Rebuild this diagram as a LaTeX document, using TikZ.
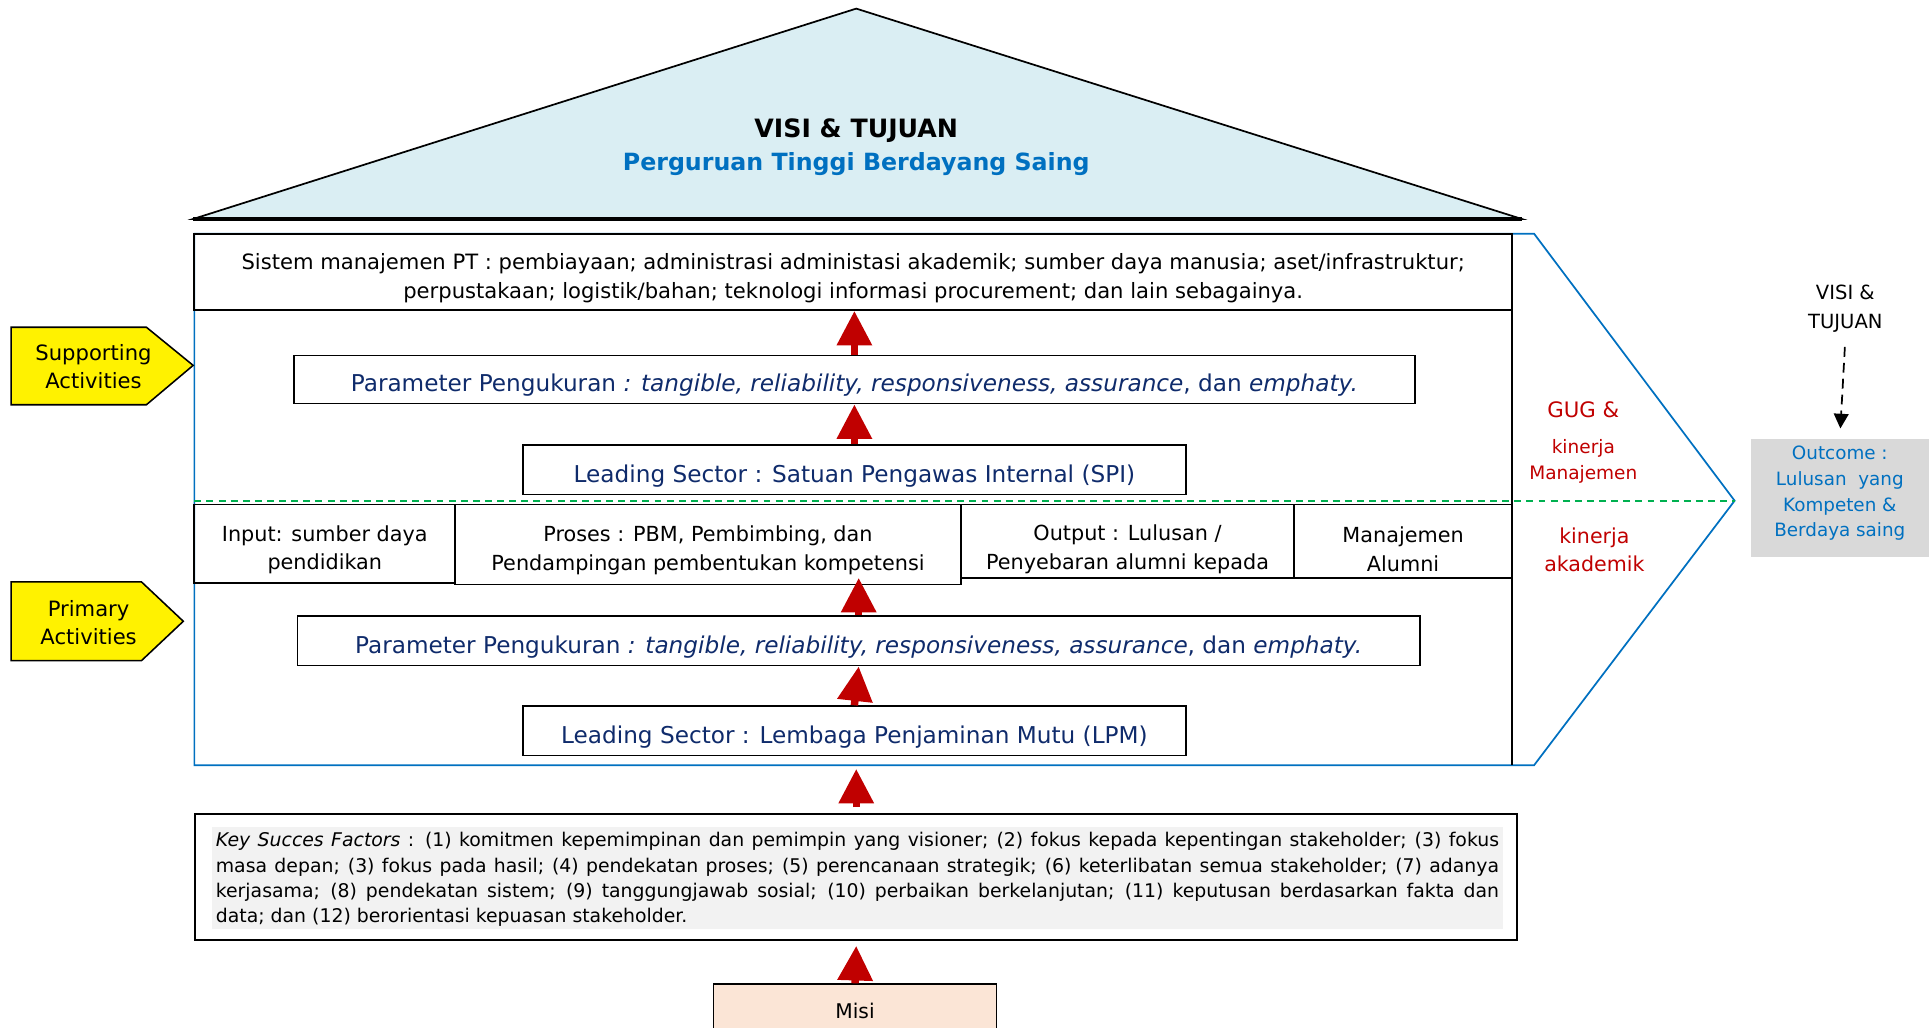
\documentclass[tikz,border=0pt]{standalone}
\usepackage{fontspec}
\setmainfont{DejaVu Sans}
\usepackage{xcolor}
\usetikzlibrary{arrows.meta,calc,positioning}

\definecolor{roofblue}{HTML}{DAEEF3}
\definecolor{frameblue}{HTML}{0070C0}
\definecolor{navytext}{HTML}{0F2B6B}
\definecolor{darkred}{HTML}{C00000}
\definecolor{dashgreen}{HTML}{00B050}
\definecolor{ksfgray}{HTML}{F2F2F2}
\definecolor{outgray}{HTML}{D9D9D9}
\definecolor{misifill}{HTML}{FBE5D6}

\newcommand{\fsz}[2]{\fontsize{#1}{#2}\selectfont}

\begin{document}
\begin{tikzpicture}[x=0.025cm,y=-0.025cm,line join=miter,
  box/.style={draw=black,line width=1pt,inner sep=0pt},
  boxtext/.style={inner sep=0pt,align=center,yshift=-3.5pt},
  paramtext/.style={boxtext,text=navytext,font=\fsz{13.4}{16}},
  celltext/.style={boxtext,font=\fsz{12}{16.5}},
  bigarrow/.style={darkred,line width=4.3pt,-{Triangle[length=20pt,width=19.5pt]}},
  tag/.style={draw=black,line width=0.9pt,fill=yellow},
  tagtext/.style={align=center,font=\fsz{12.2}{16.5}},
  redlabel/.style={text=darkred,align=center,inner sep=0pt}]
  \useasboundingbox (0,0) rectangle (1568,835);

  % ---- roof --------------------------------------------------------------
  \coordinate (apex)  at (696,7);
  \coordinate (roofL) at (157,178);
  \coordinate (roofR) at (1237,178);
  \filldraw[fill=roofblue,draw=black,line width=1pt] (roofL) -- (apex) -- (roofR) -- cycle;
  \draw[line width=2pt] (roofL) -- (roofR);
  \node[font=\fsz{14.6}{16}\bfseries] (visi) at (696,106) {VISI \& TUJUAN};
  \node[font=\fsz{13.7}{16}\bfseries,text=frameblue] (ptds) at (696,133)
       {Perguruan Tinggi Berdayang Saing};

  % ---- value chain frame ---------------------------------------------------
  \coordinate (fTL)  at (158,190);
  \coordinate (fTR)  at (1247,190);
  \coordinate (fTip) at (1410,407);
  \coordinate (fBR)  at (1247,622);
  \coordinate (fBL)  at (158,622);
  \draw[frameblue,line width=1pt] (fTL) -- (fTR) -- (fTip) -- (fBR) -- (fBL) -- cycle;
  \draw[line width=1pt] (1229,190) -- (1229,622);
  \draw[dashgreen,line width=1pt,dash pattern=on 4pt off 3pt] (158,407) -- (fTip);

  % ---- supporting activities ----------------------------------------------
  \node[box,minimum width=26.775cm,minimum height=1.55cm,
        label={[boxtext,font=\fsz{12.2}{16.5}]center:{Sistem manajemen PT : pembiayaan; administrasi administasi akademik; sumber daya manusia; aset/infrastruktur;\\
        perpustakaan; logistik/bahan; teknologi informasi procurement; dan lain sebagainya.}}]
        (sistem) at (693.5,221) {};
  \node[box,minimum width=22.775cm,minimum height=0.975cm,
        label={[paramtext]center:{Parameter Pengukuran \textit{: tangible, reliability, responsiveness, assurance}, dan \textit{emphaty.}}}]
        (paramS) at (694.5,308.5) {};
  \node[box,minimum width=13.475cm,minimum height=1cm,
        label={[paramtext]center:{Leading Sector : Satuan Pengawas Internal (SPI)}}]
        (spi) at (694.5,382) {};

  % ---- primary activities -------------------------------------------------
  \node[box,minimum width=5.3cm,minimum height=1.6cm,
        label={[celltext]center:{Input: sumber daya\\pendidikan}}] (input) at (264,442) {};
  \node[box,minimum width=10.275cm,minimum height=1.625cm,
        label={[celltext]center:{Proses : PBM, Pembimbing, dan\\Pendampingan pembentukan kompetensi}}]
        (proses) at (575.5,442.5) {};
  \node[box,minimum width=6.775cm,minimum height=1.5cm,
        label={[celltext,yshift=-1pt]center:{Output : Lulusan /\\Penyebaran alumni kepada}}]
        (output) at (916.5,440) {};
  \node[box,minimum width=4.425cm,minimum height=1.5cm,
        label={[celltext,yshift=-1pt]center:{Manajemen\\Alumni}}] (alumni) at (1140.5,440) {};
  \node[box,minimum width=22.8cm,minimum height=1cm,
        label={[paramtext]center:{Parameter Pengukuran \textit{: tangible, reliability, responsiveness, assurance}, dan \textit{emphaty.}}}]
        (paramP) at (698,521) {};
  \node[box,minimum width=13.475cm,minimum height=1cm,
        label={[paramtext]center:{Leading Sector : Lembaga Penjaminan Mutu (LPM)}}]
        (lpm) at (694.5,594) {};

  % ---- key success factors and mission ------------------------------------
  \node[box,line width=1.2pt,minimum width=26.85cm,minimum height=2.55cm] (ksf) at (696,713) {};
  \fill[ksfgray] (172,672) rectangle (1222,755);
  \node[text width=26.07cm,align=justify,inner sep=0pt,font=\fsz{10.9}{14.7}] (ksftext) at (697,715)
       {\tolerance=9000 \textit{Key Succes Factors} : (1) komitmen kepemimpinan dan pemimpin yang visioner; (2) fokus kepada kepentingan stakeholder; (3) fokus\linebreak
        masa depan; (3) fokus pada hasil; (4) pendekatan proses; (5) perencanaan strategik; (6) keterlibatan semua stakeholder; (7) adanya\linebreak
        kerjasama; (8) pendekatan sistem; (9) tanggungjawab sosial; (10) perbaikan berkelanjutan; (11) keputusan berdasarkan fakta dan\linebreak
        data; dan (12) berorientasi kepuasan stakeholder.};
  \node[box,fill=misifill,minimum width=5.75cm,minimum height=1.1cm,font=\fsz{11.7}{14}] (misi) at (695,822) {Misi};

  % ---- red arrows ----------------------------------------------------------
  \draw[bigarrow] (paramS.north) -- (paramS.north |- sistem.south);
  \draw[bigarrow] (spi.north) -- (paramS.south);
  \draw[bigarrow] (paramP.north) -- ($(paramP.north |- proses.south)+(0,-6)$);
  \draw[bigarrow] (lpm.north) -- (paramP.south);
  \draw[bigarrow] ($(ksf.north)+(0,-5)$) -- ($(ksf.north |- fBL)+(0,3)$);
  \draw[bigarrow] (misi.north) -- ($(ksf.south)+(0,4)$);

  % ---- side tags -----------------------------------------------------------
  \draw[tag] (9,266) -- (119,266) -- (157,297) -- (119,329) -- (9,329) -- cycle;
  \node[tagtext] (supp) at (76,298) {Supporting\\Activities};
  \draw[tag] (9,473) -- (115,473) -- (149,505) -- (115,537) -- (9,537) -- cycle;
  \node[tagtext] (prim) at (72,506) {Primary\\Activities};

  % ---- performance labels --------------------------------------------------
  \node[redlabel,font=\fsz{12.3}{14}] (gug) at (1287,333) {GUG \&};
  \node[redlabel,font=\fsz{10.7}{15}] (kman) at (1287,375) {kinerja\\Manajemen};
  \node[redlabel,font=\fsz{11.9}{16.5}] (kak) at (1296,447) {kinerja\\akademik};

  % ---- outcome -------------------------------------------------------------
  \node[align=center,font=\fsz{11.3}{16.4}] (visiR) at (1500,251) {VISI \&\\TUJUAN};
  \node[fill=outgray,inner sep=0pt,minimum width=3.625cm,minimum height=2.4cm,
        label={[boxtext,yshift=6.3pt,text=frameblue,font=\fsz{10.6}{14.9}]center:{Outcome :\\Lulusan~~yang\\Kompeten \&\\Berdaya saing}}]
        (outcome) at (1495.5,405) {};
  \draw[line width=1pt,dash pattern=on 5.7pt off 3.5pt,-{Triangle[length=8.5pt,width=8.5pt]},
        shorten <=5pt,shorten >=6pt] (visiR.south) -- (outcome.north);
\end{tikzpicture}
\end{document}
